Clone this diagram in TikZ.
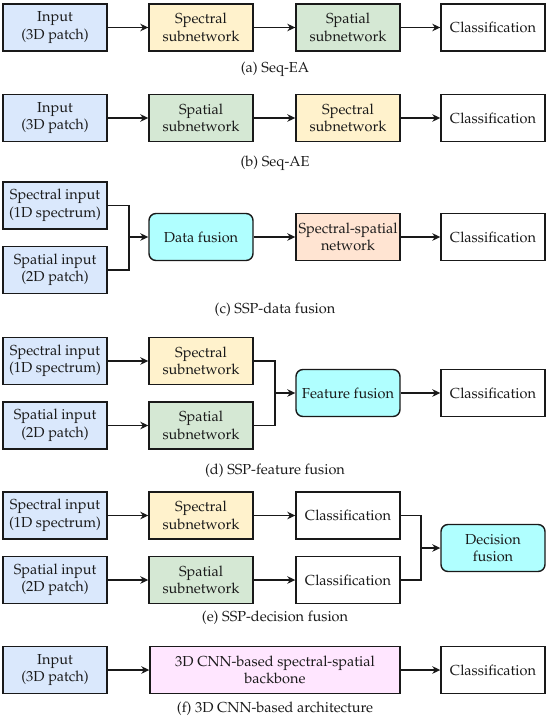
\documentclass[tikz,border=0pt]{standalone}
\usepackage[T1]{fontenc}
\usepackage{mathpazo}
\usetikzlibrary{arrows.meta}
\definecolor{cblue}{HTML}{DAE8FC}
\definecolor{cyellow}{HTML}{FFF2CC}
\definecolor{cgreen}{HTML}{D5E8D4}
\definecolor{cpeach}{HTML}{FFE4D2}
\definecolor{ccyan}{HTML}{B0FFFF}
\definecolor{cpink}{HTML}{FFE6FF}
\definecolor{ctext}{HTML}{1A1A1A}
\newcommand{\fsz}{\fontsize{14.5}{17.5}\selectfont}
\tikzset{
  box/.style={draw=black!90, line width=1.4pt, minimum width=104pt, minimum height=47pt,
    inner sep=0pt, align=center, font=\fsz, text=ctext},
  fusebox/.style={box, rounded corners=7pt, fill=ccyan},
  inbox/.style={box, fill=cblue},
  spebox/.style={box, fill=cyellow},
  spabox/.style={box, fill=cgreen},
  clsbox/.style={box, fill=white},
  capt/.style={font=\fsz, text=ctext, inner sep=0pt},
  ln/.style={line width=1.3pt, draw=black!90},
  arr/.style={ln, -{Stealth[length=8pt,width=7.5pt,inset=2.5pt]}},
}
\begin{document}
\begin{tikzpicture}[x=1pt,y=-1pt]
\useasboundingbox (0,0) rectangle (550,720);
% (a)
\node[inbox] (a1) at (55,27.5) {Input\\(3D patch)};
\node[spebox] (a2) at (201,27.5) {Spectral\\subnetwork};
\node[spabox] (a3) at (348,27.5) {Spatial\\subnetwork};
\node[clsbox] (a4) at (493,27.5) {Classification};
\node[capt] (acap) at (275,69) {(a) Seq-EA};
\draw[arr] (a1) -- (a2);
\draw[arr] (a2) -- (a3);
\draw[arr] (a3) -- (a4);
% (b)
\node[inbox] (b1) at (55,118) {Input\\(3D patch)};
\node[spabox] (b2) at (201,118) {Spatial\\subnetwork};
\node[spebox] (b3) at (348,118) {Spectral\\subnetwork};
\node[clsbox] (b4) at (493,118) {Classification};
\node[capt] (bcap) at (275,163) {(b) Seq-AE};
\draw[arr] (b1) -- (b2);
\draw[arr] (b2) -- (b3);
\draw[arr] (b3) -- (b4);
% (c)
\node[inbox] (c1) at (55,205.5) {Spectral input\\(1D spectrum)};
\node[inbox] (c2) at (55,270) {Spatial input\\(2D patch)};
\node[fusebox] (c3) at (201,237) {Data fusion};
\node[box, fill=cpeach] (c4) at (348,237) {Spectral-spatial\\network};
\node[clsbox] (c5) at (493,237) {Classification};
\node[capt] (ccap) at (275,310) {(c) SSP-data fusion};
\coordinate (cj) at (129,237);
\draw[ln] (c1.east) -| (cj);
\draw[ln] (c2.east) -| (cj);
\draw[arr] (cj) -- (c3);
\draw[arr] (c3) -- (c4);
\draw[arr] (c4) -- (c5);
% (d)
\node[inbox] (d1) at (55,361) {Spectral input\\(1D spectrum)};
\node[inbox] (d2) at (55,425.5) {Spatial input\\(2D patch)};
\node[spebox] (d3) at (201,361) {Spectral\\subnetwork};
\node[spabox] (d4) at (201,425.5) {Spatial\\subnetwork};
\node[fusebox] (d5) at (348,393) {Feature fusion};
\node[clsbox] (d6) at (493,393) {Classification};
\node[capt] (dcap) at (275,471) {(d) SSP-feature fusion};
\coordinate (dj) at (275,393);
\draw[arr] (d1) -- (d3);
\draw[arr] (d2) -- (d4);
\draw[ln] (d3.east) -| (dj);
\draw[ln] (d4.east) -| (dj);
\draw[arr] (dj) -- (d5);
\draw[arr] (d5) -- (d6);
% (e)
\node[inbox] (e1) at (55,515.5) {Spectral input\\(1D spectrum)};
\node[inbox] (e2) at (55,580) {Spatial input\\(2D patch)};
\node[spebox] (e3) at (201,515.5) {Spectral\\subnetwork};
\node[spabox] (e4) at (201,580) {Spatial\\subnetwork};
\node[clsbox] (e5) at (348,515.5) {Classification};
\node[clsbox] (e6) at (348,580) {Classification};
\node[fusebox] (e7) at (493,548) {Decision\\fusion};
\node[capt] (ecap) at (275,618) {(e) SSP-decision fusion};
\coordinate (ej) at (421,548);
\draw[arr] (e1) -- (e3);
\draw[arr] (e2) -- (e4);
\draw[arr] (e3) -- (e5);
\draw[arr] (e4) -- (e6);
\draw[ln] (e5.east) -| (ej);
\draw[ln] (e6.east) -| (ej);
\draw[arr] (ej) -- (e7);
% (f)
\node[inbox] (f1) at (55,670) {Input\\(3D patch)};
\node[box, fill=cpink, minimum width=250pt] (f2) at (275,670) {3D CNN-based spectral-spatial\\backbone};
\node[clsbox] (f3) at (493,670) {Classification};
\node[capt] (fcap) at (275,709) {(f) 3D CNN-based architecture};
\draw[arr] (f1) -- (f2);
\draw[arr] (f2) -- (f3);
\end{tikzpicture}
\end{document}
